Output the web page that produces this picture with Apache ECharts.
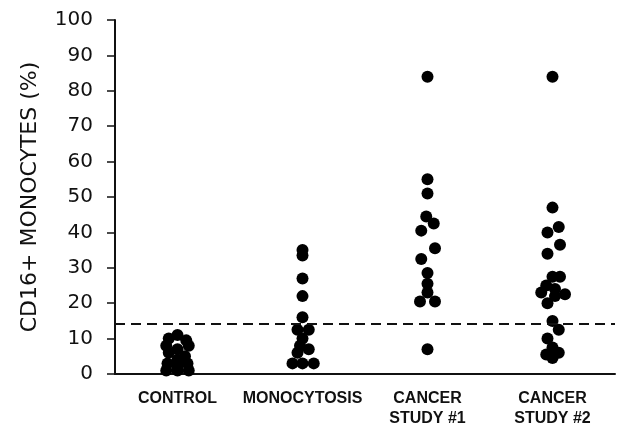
<!DOCTYPE html>
<html>
<head>
<meta charset="utf-8">
<script src="https://cdn.jsdelivr.net/npm/echarts@6/dist/echarts.min.js"></script>
<style>
  html, body { margin: 0; padding: 0; background: #fff; }
  #chart { width: 620px; height: 426px; }
</style>
</head>
<body>
<div id="chart"></div>
<script>
// groups on the x axis
var groups = ['CONTROL', 'MONOCYTOSIS', 'CANCER\nSTUDY #1', 'CANCER\nSTUDY #2'];

// % CD16+ monocytes, with the sideways spread of each dot
var controlVals   = [11, 10, 9.5, 8, 8, 7, 6, 5, 4, 3, 3, 2, 1, 1, 1];
var controlOffs   = [0, -0.07, 0.07, -0.09, 0.09, 0, -0.07, 0.06, 0, -0.08, 0.08, 0, -0.09, 0, 0.09];
var monoVals      = [35, 33.5, 27, 22, 16, 12.5, 12.5, 10, 8, 7, 6, 3, 3, 3];
var monoOffs      = [0, 0, 0, 0, 0, -0.04, 0.05, 0, -0.02, 0.05, -0.04, -0.08, 0, 0.09];
var cancer1Vals   = [84, 55, 51, 44.5, 42.5, 40.5, 35.5, 32.5, 28.5, 25.5, 23, 20.5, 20.5, 7];
var cancer1Offs   = [0, 0, 0, -0.01, 0.05, -0.05, 0.06, -0.05, 0, 0, 0, -0.06, 0.06, 0];
var cancer2Vals   = [84, 47, 41.5, 40, 36.5, 34, 27.5, 27.5, 25, 24, 23, 22.5, 22, 20, 15, 12.5, 10, 7.5, 6, 5.5, 4.5];
var cancer2Offs   = [0, 0, 0.05, -0.04, 0.06, -0.04, 0, 0.06, -0.05, 0.02, -0.09, 0.1, 0.02, -0.04, 0, 0.05, -0.04, 0, 0.05, -0.05, 0];

// cut-off level (dashed line)
var cutoff = 14.2;

function toPoints(groupIdx, vals, offs) {
  return vals.map(function (v, i) { return [groupIdx + 0.5 + offs[i], v]; });
}

var points = []
  .concat(toPoints(0, controlVals, controlOffs))
  .concat(toPoints(1, monoVals, monoOffs))
  .concat(toPoints(2, cancer1Vals, cancer1Offs))
  .concat(toPoints(3, cancer2Vals, cancer2Offs));

var myChart = echarts.init(document.getElementById('chart'));
var option = {
  animation: false,
  backgroundColor: '#fff',
  grid: { left: 115, right: 5, top: 20, bottom: 52, outerBoundsMode: 'none' },
  xAxis: [{
    type: 'category',
    data: groups,
    boundaryGap: true,
    axisLine: { lineStyle: { color: '#111', width: 2 } },
    axisTick: { alignWithLabel: true, interval: 0, length: 5, lineStyle: { color: '#111', width: 1.5 } },
    axisLabel: {
      interval: 0,
      color: '#111', fontSize: 16, fontWeight: 'bold',
      fontFamily: 'Liberation Sans, Arial, sans-serif',
      margin: 15, lineHeight: 20, verticalAlign: 'top'
    },
    splitLine: { show: false }
  }, {
    type: 'value',
    min: 0, max: 4,
    show: false
  }],
  yAxis: {
    type: 'value',
    min: 0, max: 100, interval: 10,
    name: 'CD16+ MONOCYTES (%)',
    nameLocation: 'middle',
    nameRotate: 90,
    nameGap: 74,
    nameTextStyle: { color: '#111', fontSize: 22, fontFamily: 'DejaVu Sans, sans-serif' },
    axisLine: { show: true, lineStyle: { color: '#111', width: 2 } },
    axisTick: { show: true, length: 8, lineStyle: { color: '#111', width: 1.5 } },
    axisLabel: { color: '#111', fontSize: 20, margin: 22, fontFamily: 'DejaVu Sans, sans-serif' },
    splitLine: { show: false }
  },
  series: [{
    type: 'scatter',
    xAxisIndex: 1,
    data: points,
    symbolSize: 12,
    itemStyle: { color: '#000', opacity: 1 },
    markLine: {
      silent: true,
      symbol: ['none', 'none'],
      label: { show: false },
      lineStyle: { color: '#111', type: [10, 6], width: 2 },
      data: [{ yAxis: cutoff }]
    }
  }]
};
myChart.setOption(option);
</script>
</body>
</html>
